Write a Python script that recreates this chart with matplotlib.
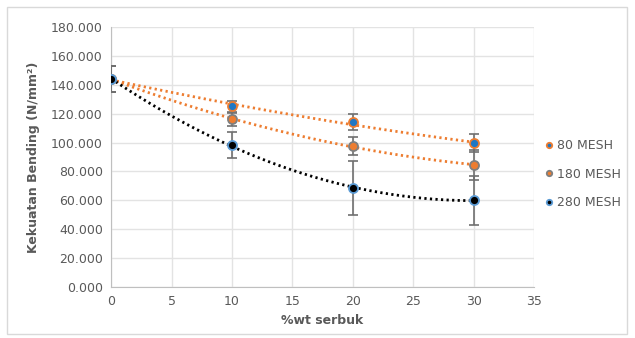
import matplotlib
matplotlib.use("Agg")
import matplotlib.pyplot as plt
import matplotlib.patches as mpatches
import numpy as np

# data
wt = [0, 10, 20, 30]
mesh80 = [144.0, 125.0, 114.0, 99.7]
mesh180 = [144.0, 116.0, 97.6, 84.5]
mesh280 = [144.0, 98.0, 68.5, 60.0]
err80 = [9.0, 3.5, 5.5, 6.0]
err180 = [9.0, 4.5, 6.0, 10.5]
err280 = [9.0, 9.0, 19.0, 17.0]
labels = ["80 MESH", "180 MESH", "280 MESH"]

GREY = "#595959"
series = [
    (mesh80, err80, "#1f77c4", "#ed7d31", "#ed7d31"),   # fill, edge, trend
    (mesh180, err180, "#ed7d31", "#7f7f7f", "#ed7d31"),
    (mesh280, err280, "#000000", "#5b9bd5", "#000000"),
]

fig = plt.figure(figsize=(6.35, 3.38), dpi=100)
fig.patches.append(mpatches.Rectangle((0.011, 0.012), 0.976, 0.968,
                                      transform=fig.transFigure, fill=False,
                                      edgecolor="#d9d9d9", lw=1.0))
ax = fig.add_axes([0.175, 0.151, 0.666, 0.769])

xs = np.linspace(0, 30, 200)
for (vals, errs, fc, ec, tc), lab in zip(series, labels):
    coef = np.polyfit(wt, vals, 2)
    ax.plot(xs, np.polyval(coef, xs), color=tc, lw=2.0,
            ls=(0, (0.8, 1.2)), zorder=2)
    ax.errorbar(wt, vals, yerr=errs, fmt="none", ecolor="#6f6f6f",
                elinewidth=1.2, capsize=3.5, capthick=1.2, zorder=3)
    ax.plot(wt, vals, "o", ms=6.5, mfc=fc, mec=ec, mew=1.3,
            ls="none", label=lab, zorder=4)

ax.set_xlim(0, 35)
ax.set_ylim(0, 180)
ax.set_xticks(range(0, 36, 5))
ax.set_yticks(range(0, 181, 20))
ax.set_yticklabels([f"{v:.3f}" for v in range(0, 181, 20)])
ax.tick_params(colors=GREY, labelsize=9, length=0, pad=6)
ax.grid(True, color="#e3e3e3", lw=1.0)
ax.set_axisbelow(True)
for s in ["top", "right"]:
    ax.spines[s].set_visible(False)
for s in ["left", "bottom"]:
    ax.spines[s].set_color("#bfbfbf")

ax.set_xlabel("%wt serbuk", color=GREY, fontsize=9, fontweight="bold",
              labelpad=4)
ax.set_ylabel("Kekuatan Bending (N/mm²)", color=GREY,
              fontsize=9, fontweight="bold", labelpad=8)

leg = ax.legend(loc="center left", bbox_to_anchor=(0.995, 0.434), frameon=False,
                fontsize=9, handletextpad=0.1, handlelength=1.0,
                labelspacing=1.25, markerscale=0.6)
for t in leg.get_texts():
    t.set_color(GREY)

fig.savefig("out.png", dpi=100)
